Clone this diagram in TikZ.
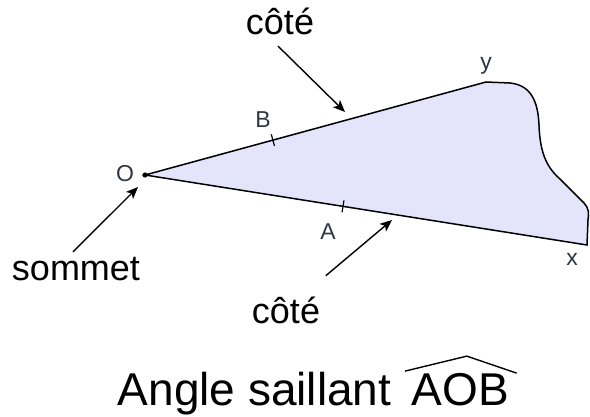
\documentclass[tikz,border=0pt]{standalone}
\usepackage{fontspec}
\setmainfont{Liberation Sans}
\usepackage{xcolor}
\definecolor{cfond}{HTML}{E4E4FB}
\definecolor{cpoint}{HTML}{2E3642}
\usetikzlibrary{arrows.meta,positioning,calc}

\begin{document}
\begin{tikzpicture}[
  x=0.5pt, y=-0.5pt, >=Stealth, line width=0.75pt,
  lettre/.style={text=cpoint, font=\fontsize{11.5}{13}\selectfont, inner sep=0pt},
  legende/.style={font=\fontsize{18}{21}\selectfont, inner sep=0pt},
  titre/.style={font=\fontsize{23}{27}\selectfont, inner sep=0pt},
  fleche/.style={-{Stealth[length=6pt, width=5pt, inset=1.5pt]}, line width=0.7pt},
  graduation/.style={line width=0.6pt},
]
  \useasboundingbox (0,0) rectangle (590,417);
  % sommet et demi-droites
  \coordinate (O) at (145,175);
  \coordinate (Y) at (486,82);
  \coordinate (X) at (587,245);
  \filldraw[fill=cfond, draw=black] (O) -- (Y) -- (510,83)
    .. controls (530,85) and (538,100) .. (539,125)
    .. controls (540,150) and (545,166) .. (560,179)
    -- (584,203) .. controls (589,208) and (589,214) .. (588,220)
    -- (X) -- cycle;
  \fill (O) circle (1.3pt);

  % graduations
  \coordinate (B) at ($(O)!0.375!(Y)$);
  \coordinate (A) at ($(O)!0.448!(X)$);
  \draw[graduation] ($(B)!3pt!90:(Y)$) -- ($(B)!3pt!-90:(Y)$);
  \draw[graduation] ($(A)!3pt!90:(X)$) -- ($(A)!3pt!-90:(X)$);

  % lettres
  \node[lettre] (lO) at (125,174) {O};
  \node[lettre] (lB) at (263,120) {B};
  \node[lettre] (lA) at (328,232) {A};
  \node[lettre] (ly) at (486,66) {y};
  \node[lettre] (lx) at (572,259) {x};

  % legendes
  \node[legende, anchor=base] (cote1) at (280,35) {côté};
  \node[legende, anchor=base] (sommet) at (76,280) {sommet};
  \node[legende, anchor=base] (cote2) at (286,323) {côté};

  \coordinate (tcote1) at (345,112);
  \coordinate (tsommet) at (138,187);
  \coordinate (tcote2) at (392,220);
  \draw[fleche] ([xshift=-1pt,yshift=-5pt]cote1.south) -- (tcote1);
  \draw[fleche] ([xshift=-1.5pt,yshift=2pt]sommet.north) -- (tsommet);
  \draw[fleche] ([xshift=2.5pt,yshift=10pt]cote2.north east) -- (tcote2);

  % titre
  \node[titre, anchor=base west] (angle) at (117,405) {Angle saillant};
  \node[titre, anchor=base west] (aob) at (411,405) {AOB};
  \draw[line width=0.7pt] ([xshift=-3pt,yshift=0.5pt]aob.north west)
    -- ([xshift=3.25pt,yshift=8pt]aob.north)
    -- ([xshift=3.5pt,yshift=-0.5pt]aob.north east);
\end{tikzpicture}
\end{document}
